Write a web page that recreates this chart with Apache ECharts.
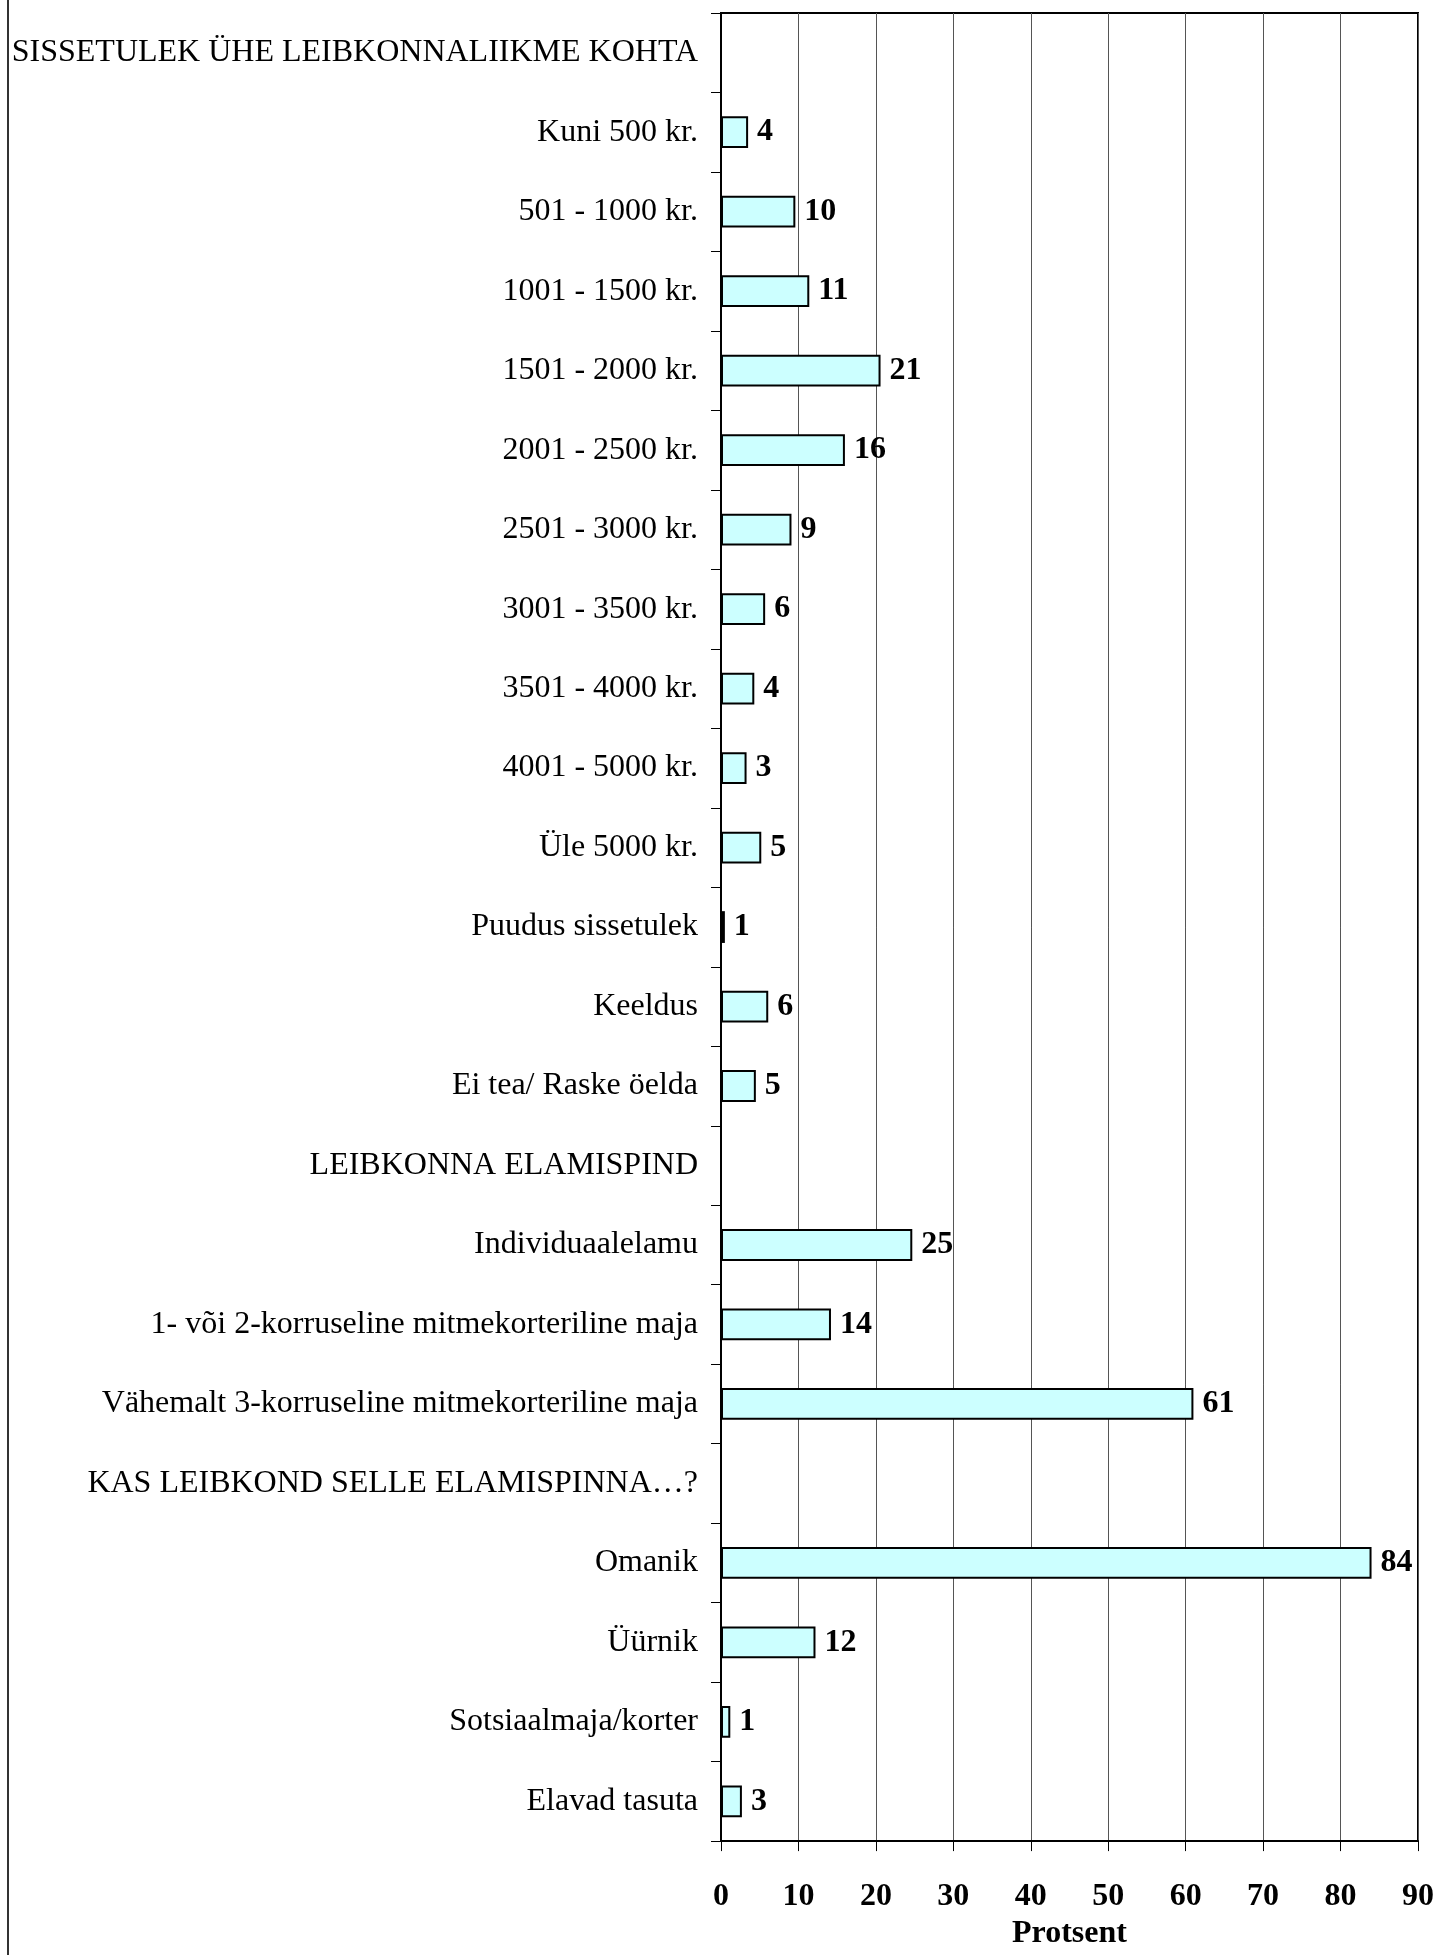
<!DOCTYPE html>
<html>
<head>
<meta charset="utf-8">
<script src="https://cdn.jsdelivr.net/npm/echarts@6/dist/echarts.min.js"></script>
<style>
html,body{margin:0;padding:0;background:#fff;}
#chart{width:1437px;height:1955px;}
</style>
</head>
<body>
<div id="chart"></div>
<script>
// ---- data ----
const header1 = 'SISSETULEK ÜHE LEIBKONNALIIKME KOHTA';
const incomeCats = ['Kuni 500 kr.', '501 - 1000 kr.', '1001 - 1500 kr.', '1501 - 2000 kr.', '2001 - 2500 kr.',
  '2501 - 3000 kr.', '3001 - 3500 kr.', '3501 - 4000 kr.', '4001 - 5000 kr.', 'Üle 5000 kr.',
  'Puudus sissetulek', 'Keeldus', 'Ei tea/ Raske öelda'];
const incomeVals = [3.5, 9.6, 11.4, 20.6, 16.0, 9.1, 5.7, 4.3, 3.3, 5.2, 0.5, 6.1, 4.5];
const header2 = 'LEIBKONNA ELAMISPIND';
const housingCats = ['Individuaalelamu', '1- või 2-korruseline mitmekorteriline maja', 'Vähemalt 3-korruseline mitmekorteriline maja'];
const housingVals = [24.7, 14.2, 61.0];
const header3 = 'KAS LEIBKOND SELLE ELAMISPINNA…?';
const tenureCats = ['Omanik', 'Üürnik', 'Sotsiaalmaja/korter', 'Elavad tasuta'];
const tenureVals = [84.0, 12.2, 1.2, 2.7];
const xTicks = [0, 10, 20, 30, 40, 50, 60, 70, 80, 90];

const categories = [header1, ...incomeCats, header2, ...housingCats, header3, ...tenureCats];
const values = [null, ...incomeVals, null, ...housingVals, null, ...tenureVals];

const serif = '"Liberation Serif", "Times New Roman", "DejaVu Serif", serif';

const chart = echarts.init(document.getElementById('chart'), null, {renderer: 'canvas'});
chart.setOption({
  backgroundColor: '#fff',
  animation: false,
  grid: {
    left: 721, right: 19, top: 13, height: 1842,
    show: true, borderColor: '#000', borderWidth: 2, backgroundColor: 'transparent'
  },
  graphic: [{
    type: 'line', shape: {x1: 8, y1: 0, x2: 8, y2: 1955},
    style: {stroke: '#333', lineWidth: 2}
  }],
  xAxis: {
    type: 'value', min: xTicks[0], max: xTicks[xTicks.length - 1], interval: 10,
    name: 'Protsent', nameLocation: 'middle', nameGap: 74,
    nameTextStyle: {fontFamily: serif, fontSize: 32, fontWeight: 'bold', color: '#000'},
    axisLine: {show: true, lineStyle: {color: '#000', width: 2}},
    axisTick: {show: true, length: 10, lineStyle: {color: '#000', width: 1}},
    axisLabel: {fontFamily: serif, fontSize: 32, fontWeight: 'bold', color: '#000', margin: 40},
    splitLine: {show: true, lineStyle: {color: '#555', width: 1}}
  },
  yAxis: {
    type: 'category', data: categories, inverse: true,
    axisLine: {show: true, lineStyle: {color: '#000', width: 2}},
    axisTick: {show: true, length: 10, lineStyle: {color: '#000', width: 1}},
    axisLabel: {fontFamily: serif, fontSize: 32, color: '#000', margin: 23, interval: 0},
    splitLine: {show: false}
  },
  series: [{
    type: 'bar', data: values, barWidth: '40%',
    itemStyle: {color: '#CCFFFF', borderColor: '#000', borderWidth: 2},
    label: {
      show: true, position: 'right', distance: 9,
      fontFamily: serif, fontSize: 32, fontWeight: 'bold', color: '#000',
      formatter: p => (p.value == null ? '' : String(Math.round(p.value)))
    }
  }]
});
</script>
</body>
</html>
